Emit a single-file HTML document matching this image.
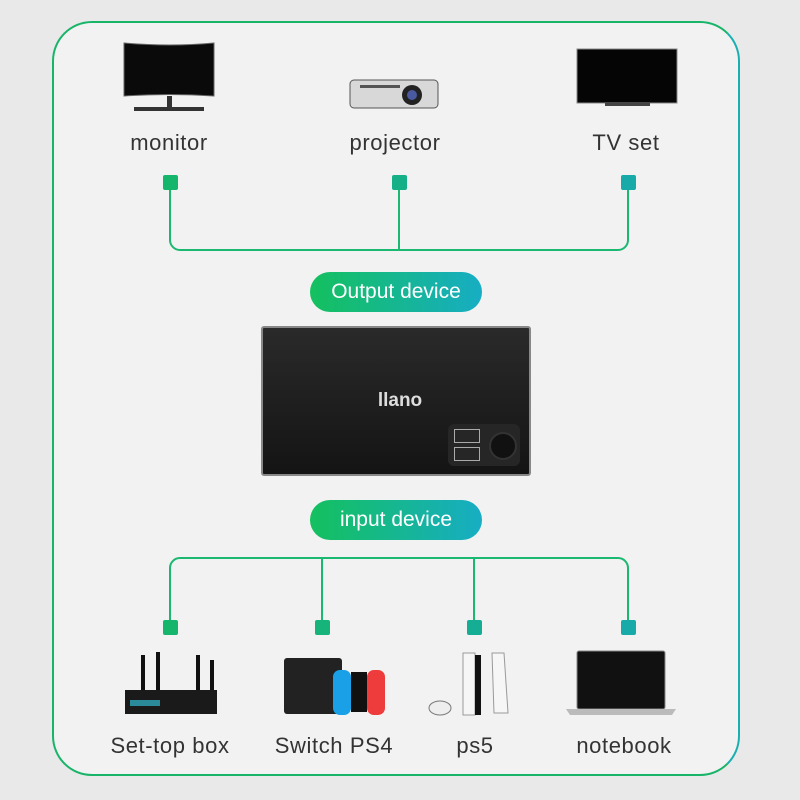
<!DOCTYPE html>
<html><head><style>
body{margin:0;width:800px;height:800px;background:#e9e9e9;position:relative;overflow:hidden;font-family:"Liberation Sans",sans-serif}
.frame{position:absolute;left:52px;top:21px;width:684px;height:751px;border:2.5px solid #18b468;border-right-color:#1aafb0;border-radius:40px;background:#f2f2f2}
.lbl{position:absolute;font-size:22px;letter-spacing:0.6px;color:#333;text-align:center;width:220px;margin-left:-110px}
.sq{position:absolute;width:15px;height:15px;border-radius:2px;margin-left:-7.5px}
.pill{position:absolute;left:310px;width:172px;height:40px;border-radius:20px;background:linear-gradient(90deg,#14c05e,#17adc4);color:#fff;font-size:21px;text-align:center;line-height:40px}
.ab{position:absolute}
</style></head><body>
<div class="frame"></div>
<svg class="ab" style="left:0;top:0" width="800" height="800">
<g fill="none" stroke-width="2">
<path d="M170 183 V240 a10 10 0 0 0 10 10 H618 a10 10 0 0 0 10 -10 V183" stroke="#1ab870"/>
<path d="M399 183 V250" stroke="#1ab870"/>
<path d="M170 627 V568 a10 10 0 0 1 10 -10 H618 a10 10 0 0 1 10 10 V627" stroke="#1ab870"/>
<path d="M322 558 V627 M474 558 V627" stroke="#1ab870"/>
</g>
<path d="M124 43 Q170 47 214 43 V96 Q170 93 124 96Z" fill="#0a0a0a" stroke="#666"/>
<rect x="167" y="96" width="5" height="11" fill="#333"/><rect x="134" y="107" width="70" height="4" fill="#333"/>
<rect x="350" y="80" width="88" height="28" rx="4" fill="#d8d8d8" stroke="#555"/>
<circle cx="412" cy="95" r="10" fill="#222"/><circle cx="412" cy="95" r="5" fill="#4a5aa0"/>
<rect x="360" y="85" width="40" height="3" fill="#555"/>
<rect x="577" y="49" width="100" height="54" fill="#050505" stroke="#888"/>
<rect x="605" y="103" width="45" height="3" fill="#444"/>
<rect x="125" y="690" width="92" height="24" fill="#1a1a1a"/>
<g stroke="#111" stroke-width="4"><path d="M143 690 V655 M158 690 V652 M198 690 V655 M212 690 V660"/></g>
<rect x="130" y="700" width="30" height="6" fill="#2a8a9a"/>
<rect x="284" y="658" width="58" height="56" rx="3" fill="#222"/>
<rect x="333" y="670" width="18" height="45" rx="7" fill="#1aa0e6"/><rect x="367" y="670" width="18" height="45" rx="7" fill="#ee3b3b"/>
<rect x="351" y="672" width="16" height="40" fill="#111"/>
<path d="M463 653 h12 v62 h-12z" fill="#f6f6f6" stroke="#999"/><rect x="475" y="655" width="6" height="60" fill="#111"/>
<path d="M492 653 h12 l4 60 h-14z" fill="#f6f6f6" stroke="#999"/>
<ellipse cx="440" cy="708" rx="11" ry="7" fill="#eee" stroke="#777"/>
<rect x="577" y="651" width="88" height="58" rx="2" fill="#111" stroke="#888"/>
<path d="M566 709 H676 l-4 6 H570z" fill="#bbb"/>
</svg>
<div class="lbl" style="left:169px;top:130px">monitor</div>
<div class="lbl" style="left:395px;top:130px">projector</div>
<div class="lbl" style="left:626px;top:130px">TV set</div>
<div class="sq" style="left:170px;top:175px;background:#16b56c"></div>
<div class="sq" style="left:399px;top:175px;background:#16b087"></div>
<div class="sq" style="left:628px;top:175px;background:#17aaa8"></div>
<div class="pill" style="top:272px">Output device</div>
<div class="ab" style="left:261px;top:326px;width:270px;height:150px;background:linear-gradient(#2a2a2a,#141414);border:2px solid #888;border-radius:3px;box-sizing:border-box"></div>
<div class="ab" style="left:370px;top:390px;width:60px;text-align:center;color:#ddd;font-weight:bold;font-size:19px">llano</div>
<div class="ab" style="left:448px;top:424px;width:72px;height:42px;background:#262626;border-radius:6px"></div>
<div class="ab" style="left:454px;top:429px;width:26px;height:14px;border:1px solid #aaa;box-sizing:border-box"></div>
<div class="ab" style="left:454px;top:447px;width:26px;height:14px;border:1px solid #aaa;box-sizing:border-box"></div>
<div class="ab" style="left:489px;top:432px;width:24px;height:24px;border-radius:50%;background:#111;border:2px solid #333"></div>
<div class="pill" style="top:500px">input device</div>
<div class="sq" style="left:170px;top:620px;background:#16b56c"></div>
<div class="sq" style="left:322px;top:620px;background:#16b37a"></div>
<div class="sq" style="left:474px;top:620px;background:#16ad95"></div>
<div class="sq" style="left:628px;top:620px;background:#17aaa8"></div>
<div class="lbl" style="left:170px;top:733px">Set-top box</div>
<div class="lbl" style="left:334px;top:733px">Switch PS4</div>
<div class="lbl" style="left:475px;top:733px">ps5</div>
<div class="lbl" style="left:624px;top:733px">notebook</div>
</body></html>
